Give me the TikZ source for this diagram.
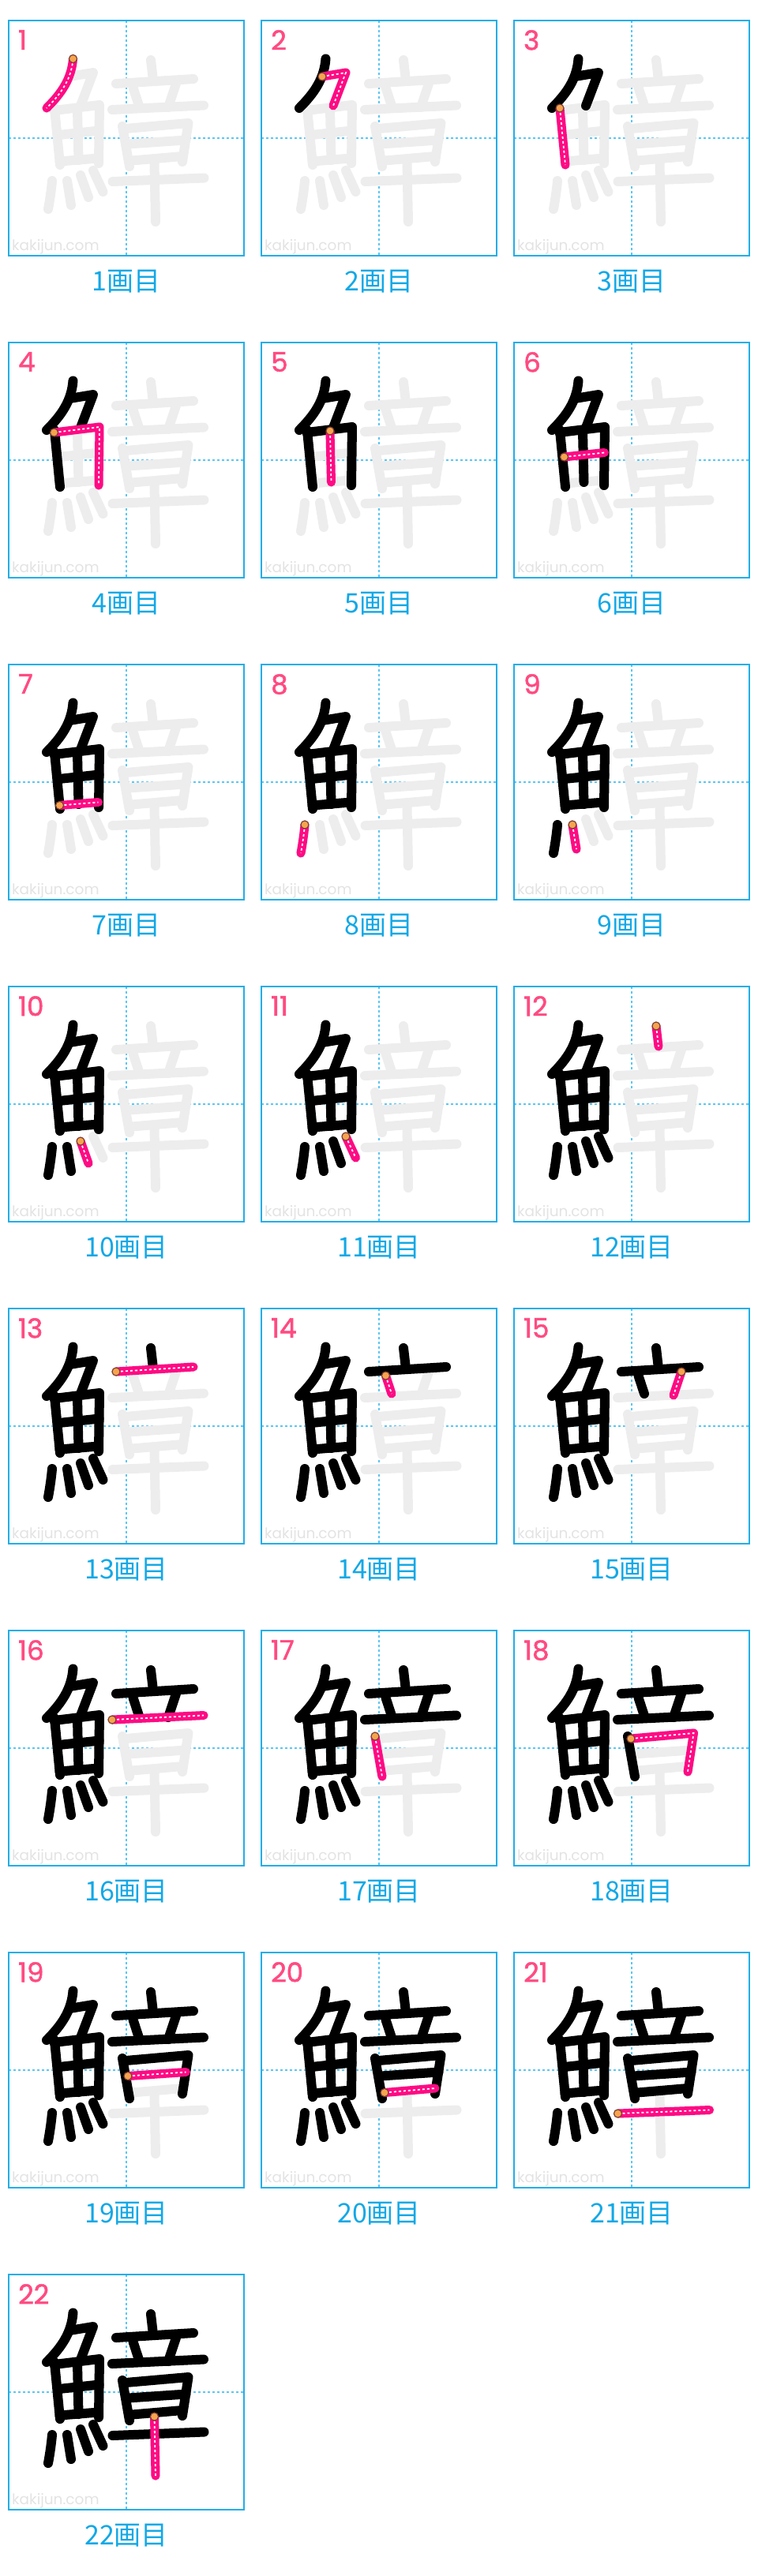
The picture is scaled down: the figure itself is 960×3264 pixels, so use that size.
\documentclass[tikz,border=0pt]{standalone}
\usepackage{fontspec}
\setmainfont{Poppins}
\newfontfamily\jpfont{Noto Sans CJK JP}
\newfontfamily\numfont[FakeBold=1.6]{Poppins}
\usepackage{tikz}

\definecolor{frameblue}{HTML}{22AEE8}
\definecolor{guideblue}{HTML}{5BC6F2}
\definecolor{capblue}{HTML}{13A8E6}
\definecolor{numpink}{HTML}{FF4B82}
\definecolor{strokepink}{HTML}{FF0A84}
\definecolor{ghostgray}{HTML}{EDEDED}
\definecolor{markgray}{HTML}{E3E3E3}
\definecolor{dotorange}{HTML}{F7A34F}
\definecolor{dotbrown}{HTML}{6B4226}

% strokes of the character, panel units (px, y down)
\tikzset{
  kaku 1/.style={insert path={(81.5,48.5) coordinate (start) .. controls (79.5,74) and (67,92) .. (48,111)}},
  kaku 2/.style={insert path={(77,71) coordinate (start) -- (107,66) -- (91,108)}},
  kaku 3/.style={insert path={(58,111) coordinate (start) -- (65,183)}},
  kaku 4/.style={insert path={(57.5,114) coordinate (start) -- (115,107) -- (114,181)}},
  kaku 5/.style={insert path={(87,112) coordinate (start) -- (88.5,177)}},
  kaku 6/.style={insert path={(63.5,145) coordinate (start) -- (114.5,139.5)}},
  kaku 7/.style={insert path={(64.5,178.5) coordinate (start) -- (113.5,174.5)}},
  kaku 8/.style={insert path={(55,203) coordinate (start) .. controls (54,215) and (52,228) .. (50,239)}},
  kaku 9/.style={insert path={(74,203) coordinate (start) -- (79,234)}},
  kaku 10/.style={insert path={(91,196) coordinate (start) -- (101,224)}},
  kaku 11/.style={insert path={(107,190) coordinate (start) -- (119.5,217)}},
  kaku 12/.style={insert path={(180,50) coordinate (start) -- (183,76)}},
  kaku 13/.style={insert path={(136,80) coordinate (start) -- (234,74)}},
  kaku 14/.style={insert path={(157.5,85) coordinate (start) -- (165,108)}},
  kaku 15/.style={insert path={(212,80) coordinate (start) -- (202,110)}},
  kaku 16/.style={insert path={(131,113) coordinate (start) -- (247,107.5)}},
  kaku 17/.style={insert path={(144,134) coordinate (start) -- (153,185)}},
  kaku 18/.style={insert path={(148,137) coordinate (start) -- (227.5,130) -- (220,179)}},
  kaku 19/.style={insert path={(151,156.5) coordinate (start) -- (224.5,151.5)}},
  kaku 20/.style={insert path={(156,177.5) coordinate (start) -- (220,172)}},
  kaku 21/.style={insert path={(131.5,204) coordinate (start) -- (247.5,199.5)}},
  kaku 22/.style={insert path={(184.5,180) coordinate (start) -- (186,255)}}
}

\begin{document}
\begin{tikzpicture}[x=1pt, y=-1pt,
  frame/.style={draw=frameblue, line width=1.6pt},
  guide/.style={draw=guideblue, line width=1.4pt, dash pattern=on 3pt off 3pt},
  ghost/.style={draw=ghostgray, line width=12pt, line cap=round, line join=round},
  done/.style={draw=black, line width=12pt, line cap=round, line join=round},
  current/.style={draw=strokepink, line width=11pt, line cap=round, line join=round},
  dotline/.style={draw=white, line width=1.8pt, dash pattern=on 3pt off 3pt},
  startdot/.style={draw=dotbrown, fill=dotorange, line width=1pt},
  numlabel/.style={anchor=north west, inner sep=0pt, text=numpink,
    font=\numfont\fontsize{34}{34}\selectfont},
  caption/.style={inner sep=0pt, text=capblue, font=\jpfont\fontsize{34}{34}\selectfont},
  watermark/.style={anchor=west, inner sep=0pt, text=markgray, font=\fontsize{18.5}{18.5}\selectfont}]
  \useasboundingbox (0,0) rectangle (960,3264);

  \foreach \n in {1,...,22}{
    \pgfmathtruncatemacro\col{mod(\n-1,3)}
    \pgfmathtruncatemacro\row{(\n-1)/3}
    \pgfmathtruncatemacro\prev{\n-1}
    \begin{scope}[shift={(11+320*\col,26+408*\row)}]
      % grid box
      \draw[guide] (149,0) -- (149,298);
      \draw[guide] (0,149) -- (298,149);
      \node[watermark] (mark\n) at (4,287) {kakijun.com};
      % whole character in grey, earlier strokes in black
      \foreach \k in {1,...,22} \draw[ghost, kaku \k];
      \ifnum\n>1
        \foreach \k in {1,...,\prev} \draw[done, kaku \k];
      \fi
      % the stroke of this step
      \draw[current, kaku \n];
      \draw[dotline, kaku \n];
      \draw[startdot] (start) circle (5);
      \draw[frame] (0,0) rectangle (298,298);
      \node[numlabel] (num\n) at (12,12) {\n};
      \node[caption] (cap\n) at (149,331) {\n{}画目};
    \end{scope}
  }
\end{tikzpicture}
\end{document}
